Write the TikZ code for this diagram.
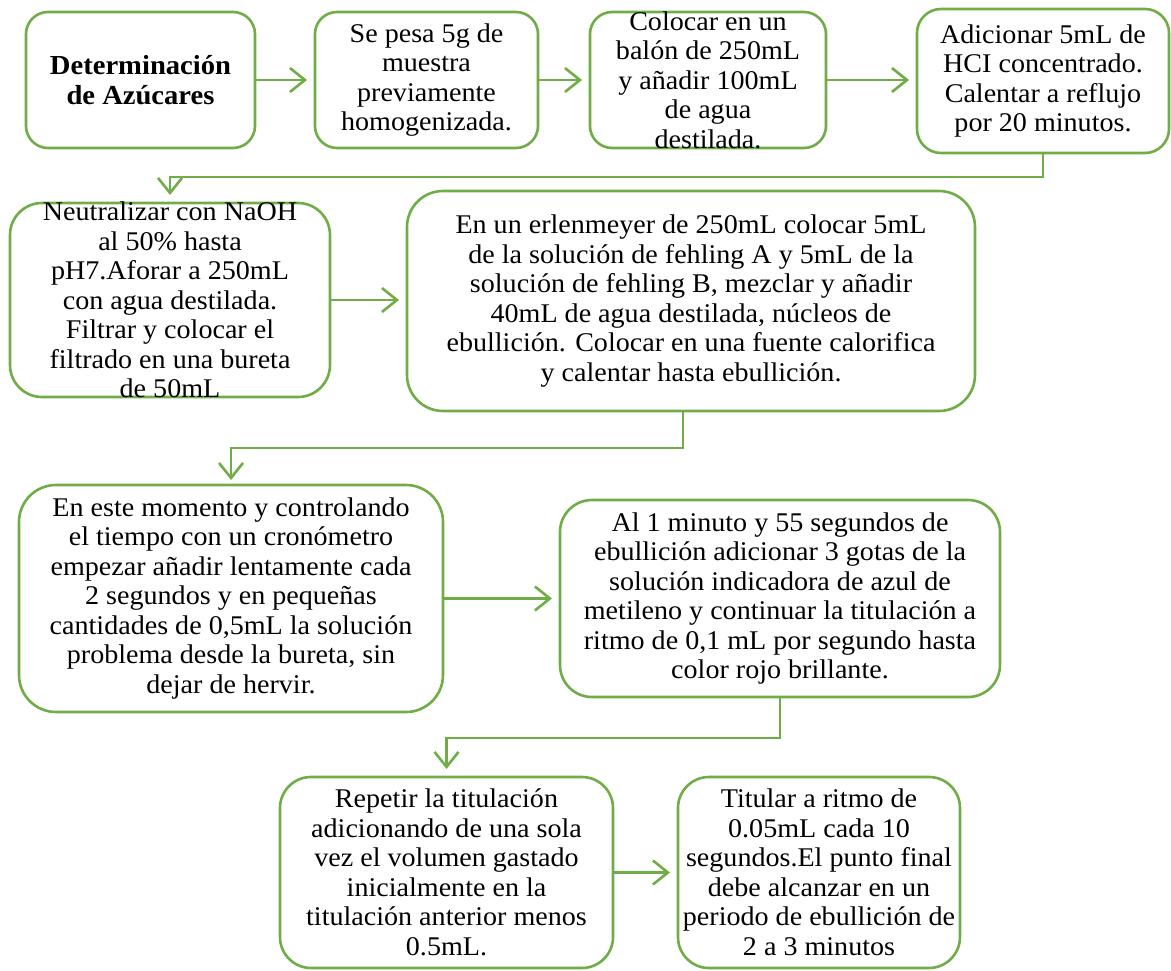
\documentclass[tikz,border=0pt]{standalone}
\usepackage{fontspec}
\setmainfont{Liberation Serif}[FakeStretch=1.04]
\usetikzlibrary{arrows.meta}
\definecolor{leaf}{HTML}{70AD47}
\tikzset{
  stepbox/.style={draw=leaf, line width=2.6pt, fill=white, inner sep=0pt, outer sep=0pt},
  steptext/.style={align=center, font=\fontsize{27}{29.5}\selectfont, inner sep=0pt},
  flow/.style={draw=leaf, line width=2.6pt, -{Straight Barb[length=15pt,width=24pt]}, shorten >=8pt},
}
\begin{document}
\begin{tikzpicture}[x=1pt,y=-1pt]
\useasboundingbox (0,0) rectangle (1171,971);

% first row
\node[stepbox, rounded corners=22pt, minimum width=229pt, minimum height=136pt] (b1) at (140.5,80) {};
\node[steptext, font=\fontsize{27.5}{29.5}\selectfont\bfseries] (t1) at (b1.center) {Determinación\\de Azúcares};

\node[stepbox, rounded corners=22pt, minimum width=223pt, minimum height=136pt] (b2) at (426.5,80) {};
\node[steptext] (t2) at (b2.center) {Se pesa 5g de\\muestra\\previamente\\homogenizada.};

\node[stepbox, rounded corners=22pt, minimum width=236pt, minimum height=136pt] (b3) at (708,80) {};
\node[steptext] (t3) at (b3.center) {Colocar en un\\balón de 250mL\\y añadir 100mL\\de agua\\destilada.};

\node[stepbox, rounded corners=24pt, minimum width=252pt, minimum height=144pt] (b4) at (1043,81) {};
\node[steptext] (t4) at (b4.center) {Adicionar 5mL de\\HCI concentrado.\\Calentar a reflujo\\por 20 minutos.};

% second row
\node[stepbox, rounded corners=32pt, minimum width=320pt, minimum height=194pt] (b5) at (170,300) {};
\node[steptext] (t5) at (b5.center) {Neutralizar con NaOH\\al 50\% hasta\\pH7.Aforar a 250mL\\con agua destilada.\\Filtrar y colocar el\\filtrado en una bureta\\de 50mL};

\node[stepbox, rounded corners=36pt, minimum width=568pt, minimum height=220pt] (b6) at (691,301) {};
\node[steptext] (t6) at (b6.center) {En un erlenmeyer de 250mL colocar 5mL\\de la solución de fehling A y 5mL de la\\solución de fehling B, mezclar y añadir\\40mL de agua destilada, núcleos de\\ebullición. Colocar en una fuente calorifica\\y calentar hasta ebullición.};

% third row
\node[stepbox, rounded corners=37pt, minimum width=424pt, minimum height=227pt] (b7) at (231,598.5) {};
\node[steptext] (t7) at (b7.center) {En este momento y controlando\\el tiempo con un cronómetro\\empezar añadir lentamente cada\\2 segundos y en pequeñas\\cantidades de 0,5mL la solución\\problema desde la bureta, sin\\dejar de hervir.};

\node[stepbox, rounded corners=32pt, minimum width=440pt, minimum height=197pt] (b8) at (780,598.5) {};
\node[steptext] (t8) at (b8.center) {Al 1 minuto y 55 segundos de\\ebullición adicionar 3 gotas de la\\solución indicadora de azul de\\metileno y continuar la titulación a\\ritmo de 0,1 mL por segundo hasta\\color rojo brillante.};

% fourth row
\node[stepbox, rounded corners=31pt, minimum width=333pt, minimum height=191pt] (b9) at (446.5,872.5) {};
\node[steptext] (t9) at (b9.center) {Repetir la titulación\\adicionando de una sola\\vez el volumen gastado\\inicialmente en la\\titulación anterior menos\\0.5mL.};

\node[stepbox, rounded corners=31pt, minimum width=282pt, minimum height=191pt] (b10) at (819,872.5) {};
\node[steptext] (t10) at (b10.center) {Titular a ritmo de\\0.05mL cada 10\\segundos.El punto final\\debe alcanzar en un\\periodo de ebullición de\\2 a 3 minutos};

% connectors
\draw[flow] (b1.east) -- (b2.west);
\draw[flow] (b2.east) -- (b3.west);
\draw[flow] (b3.east) -- (b3.east -| b4.west);
\draw[flow] (b4.south) -- ++(0,24) -| (b5.north);
\draw[flow] (b5.east) -- (b5.east -| b6.west);
\draw[flow, shorten >=5pt] ([xshift=-8pt]b6.south) -- ++(0,37) -| (b7.north);
\draw[flow] (b7.east) -- (b8.west);
\draw[flow] (b8.south) -- ++(0,41) -| (b9.north);
\draw[flow] (b9.east) -- (b9.east -| b10.west);
\end{tikzpicture}
\end{document}
